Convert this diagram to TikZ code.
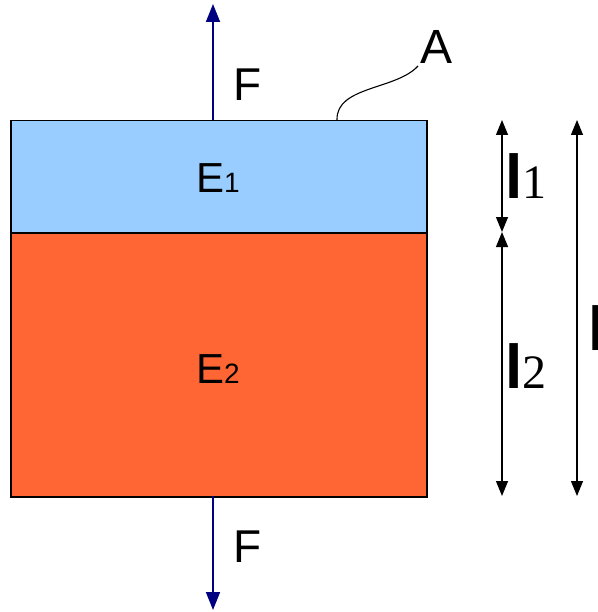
\documentclass[tikz,border=0pt]{standalone}
\usepackage{fontspec}
\setmainfont{Liberation Sans}
\newfontfamily\timesfont{Liberation Serif}
\usetikzlibrary{arrows.meta}
\definecolor{layerblue}{HTML}{99CCFF}
\definecolor{layerred}{HTML}{FF6633}
\definecolor{forceblue}{HTML}{000080}
\newcommand{\fsz}[1]{\fontsize{#1}{#1}\selectfont}
\begin{document}
\begin{tikzpicture}[x=1pt,y=-1pt,
    layer/.style={draw,line width=1.5pt,minimum width=416pt,anchor=north west,inner sep=0pt},
    force/.style={forceblue,line width=1.6pt,-{Triangle[width=14pt,length=18pt]}},
    dim/.style={line width=1.2pt,{Triangle[width=12pt,length=15pt]}-{Triangle[width=12pt,length=15pt]}},
    lbl/.style={anchor=base west,inner sep=0pt}]
    \useasboundingbox (0,0) rectangle (597,612);
    % the two layers
    \node[layer,fill=layerblue,minimum height=112pt] (upper) at (10,120) {};
    \node[layer,fill=layerred,minimum height=264pt] (lower) at (10,232) {};
    \node[anchor=base] (e1) at (218,193) {\fsz{42}E\fsz{28}1};
    \node[anchor=base] (e2) at (218,383) {\fsz{42}E\fsz{28}2};
    % forces
    \coordinate (fin) at (213,120);
    \coordinate (fup) at (213,4);
    \coordinate (fout) at (213,496);
    \coordinate (fdown) at (213,610);
    \draw[force] (fin) -- (fup);
    \draw[force] (fout) -- (fdown);
    \node[lbl] (ftop) at (233,101) {\fsz{46}F};
    \node[lbl] (fbot) at (233,562) {\fsz{46}F};
    % area
    \node[lbl] (area) at (420,64) {\fsz{48}A};
    \coordinate (aref) at (337,120);
    \coordinate (aend) at (418,66);
    \draw[line width=1.1pt] (aref) .. controls (336,86) and (396,90) .. (aend);
    % lengths
    \coordinate (d1top) at (502,120);
    \coordinate (d1mid) at (502,232);
    \coordinate (d1bot) at (502,496);
    \coordinate (dtop) at (577,120);
    \coordinate (dbot) at (577,496);
    \draw[dim] (d1top) -- (d1mid);
    \draw[dim] (d1mid) -- (d1bot);
    \draw[dim] (dtop) -- (dbot);
    \node[lbl] (l1) at (505,199) {\fsz{62}\bfseries l\mdseries\timesfont\fsz{48}1};
    \node[lbl] (l2) at (505,388) {\fsz{62}\bfseries l\mdseries\timesfont\fsz{48}2};
    \node[lbl] (ltot) at (588,350) {\fsz{62}\bfseries l};
\end{tikzpicture}
\end{document}
